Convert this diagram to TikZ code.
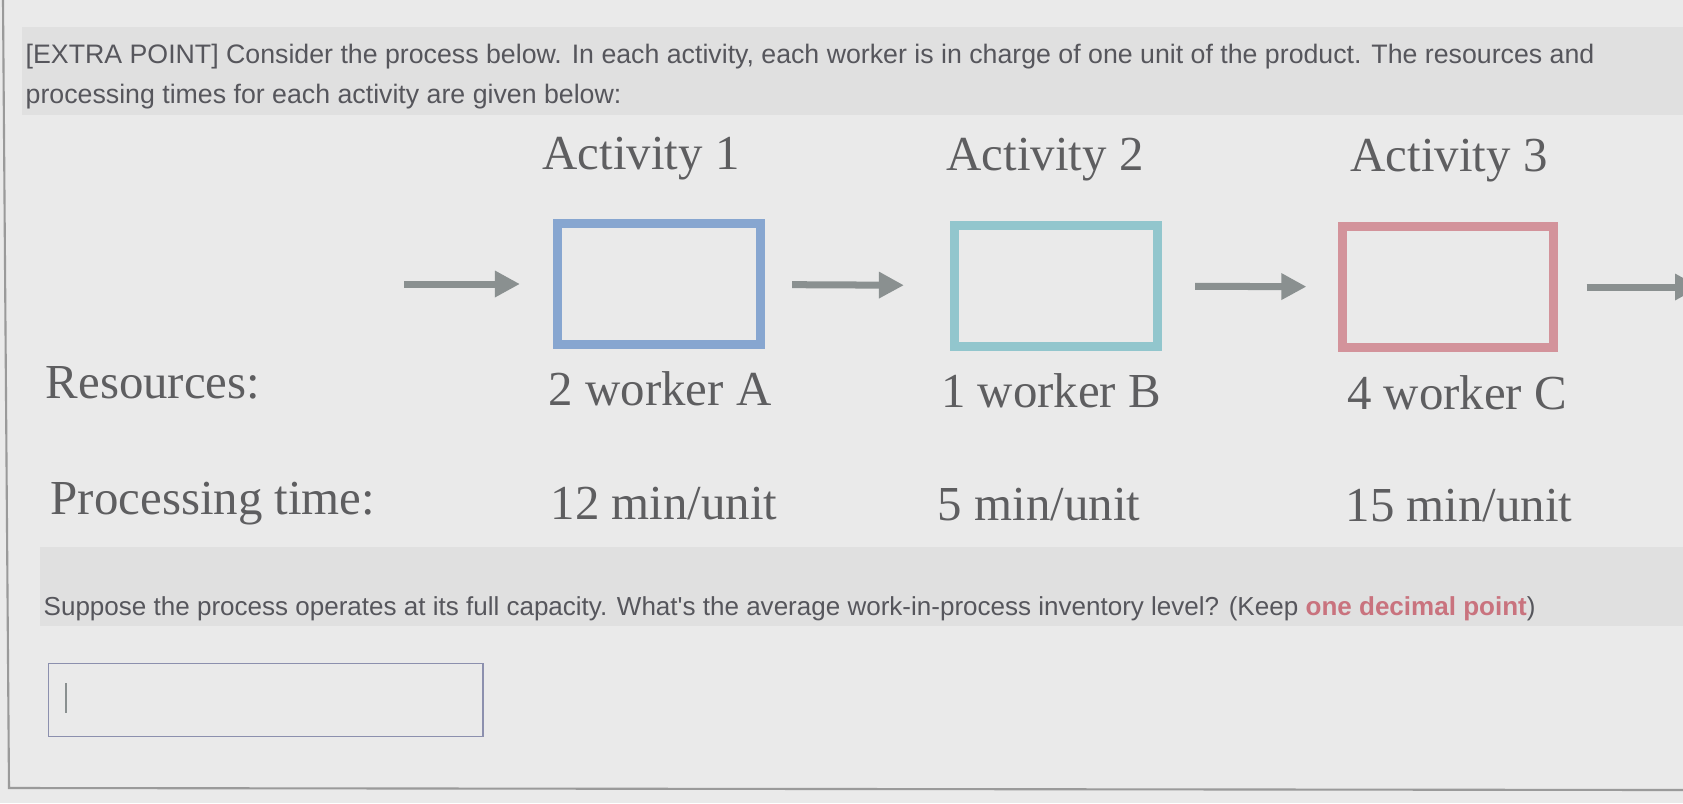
\documentclass[tikz,border=0pt]{standalone}
\usepackage{fontspec}
\setmainfont{Liberation Serif}
\newfontfamily\uisans{Liberation Sans}
\usetikzlibrary{arrows.meta}

\begin{document}
\begin{tikzpicture}[x=0.01cm,y=-0.01cm,
	sheettext/.style={text=inkgray,font=\uisans\fontsize{7.6}{9}\selectfont,inner sep=0pt,anchor=base west},
	flowtext/.style={text=serifgray,font=\fontsize{13.9}{16}\selectfont,inner sep=0pt,anchor=base},
	station/.style={draw,line width=0.09cm,minimum width=2.03cm,minimum height=1.2cm,inner sep=0pt},
	flow/.style={draw=arrowgray,line width=0.07cm,-{Triangle[length=0.25cm,width=0.25cm]}}]
					\definecolor{sheetgray}{HTML}{EAEAEA}
					\definecolor{bandgray}{HTML}{E0E0E0}
					\definecolor{framegray}{HTML}{9A9A9A}
					\definecolor{inkgray}{HTML}{56565C}
					\definecolor{serifgray}{HTML}{5E5E60}
					\definecolor{arrowgray}{HTML}{8A9090}
					\definecolor{blueA}{HTML}{87A6D0}
					\definecolor{tealB}{HTML}{92C6CD}
					\definecolor{redC}{HTML}{D3939B}
					\definecolor{hintred}{HTML}{C9737E}
					\definecolor{fieldline}{HTML}{8C90AE}
					\useasboundingbox (0,0) rectangle (1683,803);
					\fill[sheetgray] (0,0) rectangle (1683,803);
					\fill[bandgray] (22,27) rectangle (1683,115);
					\fill[bandgray] (40,547) rectangle (1683,626);
					\draw[framegray,line width=0.6pt] (3,0) -- (9,788) -- (1683,790);

					\node[sheettext] (intro1) at (25,63) {[EXTRA POINT] Consider the process below. In each activity, each worker is in charge of one unit of the product. The resources and};
					\node[sheettext] (intro2) at (25,103) {processing times for each activity are given below:};

					\node[flowtext] (act1) at (641,169) {Activity 1};
					\node[flowtext] (act2) at (1045,170) {Activity 2};
					\node[flowtext] (act3) at (1449,171) {Activity 3};

					\node[station,draw=blueA] (box1) at (659,284) {};
					\node[station,draw=tealB] (box2) at (1056,286) {};
					\node[station,draw=redC,minimum width=2.1cm] (box3) at (1448,287) {};
					\coordinate (in) at (404,284);
					\coordinate (out) at (1700,287);
					\draw[flow,shorten >=0.33cm] (in) -- (box1);
					\draw[flow,shorten <=0.27cm,shorten >=0.46cm] (box1) -- (box2);
					\draw[flow,shorten <=0.33cm,shorten >=0.32cm] (box2) -- (box3);
					\draw[flow,shorten <=0.29cm] (box3) -- (out);

					\node[flowtext,anchor=base west] (reslabel) at (45,398) {Resources:};
					\node[flowtext] (res1) at (660,405) {2 worker A};
					\node[flowtext] (res2) at (1051,407) {1 worker B};
					\node[flowtext] (res3) at (1457,409) {4 worker C};

					\node[flowtext,anchor=base west] (timelabel) at (50,514) {Processing time:};
					\node[flowtext] (time1) at (664,519) {12 min/unit};
					\node[flowtext] (time2) at (1039,520) {5 min/unit};
					\node[flowtext] (time3) at (1459,521) {15 min/unit};

					\node[sheettext,font=\uisans\fontsize{7.4}{9}\selectfont] (question) at (43,615) {Suppose the process operates at its full capacity. What's the average work-in-process inventory level? (Keep {\color{hintred}\bfseries one decimal point})};

					\node[draw=fieldline,line width=0.4pt,minimum width=4.34cm,minimum height=0.73cm,inner sep=0pt,anchor=north west] (answer) at (48,663) {};
					\draw[arrowgray,line width=0.4pt] ([xshift=0.18cm,yshift=0.17cm]answer.west) -- ([xshift=0.18cm,yshift=-0.13cm]answer.west);
				\end{tikzpicture}
\end{document}
